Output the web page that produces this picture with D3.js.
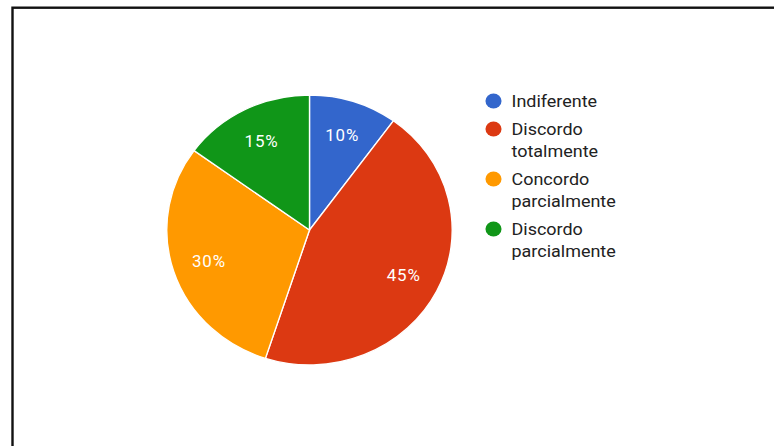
<!DOCTYPE html>
<html>
<head>
<meta charset="utf-8">
<script src="https://cdn.jsdelivr.net/npm/d3@7"></script>
<style>
  html, body { margin: 0; padding: 0; background: #fff; }
  svg { display: block; }
</style>
</head>
<body>
<svg id="chart" width="774" height="446"></svg>
<script>
// Survey answers and their share of responses (%)
const categories = ["Indiferente", "Discordo totalmente", "Concordo parcialmente", "Discordo parcialmente"];
const values = [10, 45, 30, 15];
const colors = ["#3366cc", "#dc3912", "#ff9900", "#109618"];

const W = 774, H = 446;
const sx = 1.057;               // horizontal stretch of the whole chart
const svg = d3.select("#chart");

svg.append("rect").attr("width", W).attr("height", H).attr("fill", "#fff");

// frame (open to the right and bottom)
svg.append("rect")
  .attr("x", 12.5).attr("y", 7.7)
  .attr("width", W + 20).attr("height", H + 20)
  .attr("fill", "none").attr("stroke", "#111").attr("stroke-width", 2.4);

const g = svg.append("g").attr("transform", `scale(${sx},1)`);

const cx = 309.5 / sx, cy = 230, R = 135;
const data = categories.map((c, i) => ({ name: c, value: values[i], color: colors[i] }));

const pie = d3.pie().value(d => d.value).sort(null);
const arcs = pie(data);
const arc = d3.arc().innerRadius(0).outerRadius(R);
const labelArc = d3.arc().innerRadius(100).outerRadius(100);

const pieG = g.append("g").attr("transform", `translate(${cx},${cy})`);
pieG.selectAll("path.slice")
  .data(arcs)
  .join("path")
  .attr("class", "slice")
  .attr("d", arc)
  .attr("fill", d => d.data.color)
  .attr("stroke", "#fff")
  .attr("stroke-width", 1.3);

pieG.selectAll("text.pct")
  .data(arcs)
  .join("text")
  .attr("class", "pct")
  .attr("transform", d => `translate(${labelArc.centroid(d)})`)
  .attr("text-anchor", "middle")
  .attr("dy", "0.36em")
  .attr("fill", "#fff")
  .style("font-family", "Roboto, Arial, sans-serif")
  .style("font-size", "16px")
  .style("letter-spacing", "0.8px")
  .text(d => d.data.value + "%");

// legend: names wrap after the first word
const legX = 493.5 / sx, textX = 511.5 / sx;
const lineH = 22, itemGap = 28;
let baseline = 107;
const legG = g.append("g");
data.forEach(d => {
  const sp = d.name.indexOf(" ");
  const lines = sp < 0 ? [d.name] : [d.name.slice(0, sp), d.name.slice(sp + 1)];
  legG.append("circle")
    .attr("cx", legX).attr("cy", baseline - 6)
    .attr("r", 7.6)
    .attr("fill", d.color);
  const t = legG.append("text")
    .attr("x", textX).attr("y", baseline)
    .attr("fill", "#222")
    .style("font-family", "Roboto, Arial, sans-serif")
    .style("font-size", "17px");
  lines.forEach((ln, i) => {
    t.append("tspan").attr("x", textX).attr("dy", i === 0 ? 0 : lineH).text(ln);
  });
  baseline += (lines.length - 1) * lineH + itemGap;
});
</script>
</body>
</html>
